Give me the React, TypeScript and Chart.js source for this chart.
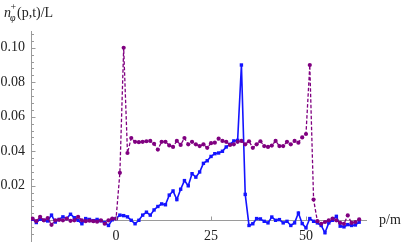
import React, { useEffect, useRef } from "react";
import { Chart, registerables } from "chart.js";

Chart.register(...registerables);

// momentum values p (x axis)
const pValues = [
  -22, -21, -20, -19, -18, -17, -16, -15, -14, -13, -12, -11, -10, -9, -8, -7, -6, -5, -4, -3, -2, -1,
  0, 1, 2, 3, 4, 5, 6, 7, 8, 9, 10, 11, 12, 13, 14, 15, 16, 17, 18, 19, 20, 21, 22, 23, 24, 25, 26, 27, 28, 29,
  30, 31, 32, 33, 34, 35, 36, 37, 38, 39, 40, 41, 42, 43, 44, 45, 46, 47, 48, 49, 50, 51, 52, 53, 54, 55, 56,
  57, 58, 59, 60, 61, 62, 63, 64,
];

// purple dashed series
const purpleValues = [
  0.001, -0.0005, 0.002, 0.0, 0.0013, -0.0026, 0.0, 0.0003, 0.0, 0.001, -0.0003, 0.0, 0.002, 0.0, -0.0005, -0.0002, -0.0005, -0.0008, 0.0, -0.002, 0.0, 0.001,
  0.001, 0.0275, 0.1, 0.039, 0.0477, 0.0455, 0.0453, 0.0455, 0.0458, 0.046, 0.0443, 0.041, 0.0455, 0.0455, 0.0434, 0.0425, 0.046, 0.0437, 0.0477, 0.044, 0.0455, 0.044, 0.043, 0.044, 0.042, 0.0447, 0.045, 0.0473, 0.046, 0.0455,
  0.0437, 0.044, 0.0455, 0.046, 0.044, 0.0458, 0.042, 0.044, 0.0458, 0.043, 0.0425, 0.0433, 0.046, 0.043, 0.043, 0.0455, 0.044, 0.046, 0.045, 0.048, 0.05, 0.09, 0.012, -0.0005, -0.002, -0.001, 0.0,
  0.001, 0.0, -0.0015, -0.002, 0.0028, -0.0015, -0.001, 0.0005,
];

// blue solid series
const blueValues = [
  0.0006, -0.0013, 0.0006, 0.0, -0.0004, 0.003, -0.001, 0.0005, 0.002, 0.001, 0.0035, 0.0015, 0.0, -0.002, 0.001, 0.0005, -0.0002, 0.0005, -0.0003, -0.0013, -0.003, 0.0003,
  0.001, 0.003, 0.0027, 0.002, 0.0, -0.002, 0.0, 0.003, 0.0047, 0.003, 0.006, 0.008, 0.0095, 0.009, 0.0146, 0.017, 0.012, 0.018, 0.023, 0.02, 0.027, 0.025, 0.028, 0.033, 0.0345, 0.037, 0.0386, 0.039, 0.04, 0.0425,
  0.044, 0.046, 0.0463, 0.09, 0.015, -0.003, -0.002, 0.001, 0.0008, -0.0006, -0.0015, 0.0019, 0.0, 0.0004, -0.0015, -0.0006, -0.003, -0.0015, 0.0042, -0.0019, -0.0044, 0.001, -0.0006, -0.0015, -0.003, -0.0072, -0.0015,
  0.0, 0.0023, -0.0034, -0.0038, -0.0025, -0.003, -0.0027, -0.0011,
];

const xTicks = [0, 25, 50];
const yTicks = [0.02, 0.04, 0.06, 0.08, 0.1];
const yMinorTicks = [
  -0.008, -0.004, 0.004, 0.008, 0.012, 0.016, 0.024, 0.028, 0.032, 0.036, 0.044, 0.048, 0.052, 0.056,
  0.064, 0.068, 0.072, 0.076, 0.084, 0.088, 0.092, 0.096, 0.104, 0.108,
];

const X_MIN = -22.4;
const X_MAX = 65.8;
const Y_MIN = -0.012;
const Y_MAX = 0.1097;

const SERIF = "'Liberation Serif', 'Times New Roman', 'DejaVu Serif', serif";
const AXIS_COLOR = "#9a9a9a";
const PURPLE = "rgb(128,0,128)";
const BLUE = "rgb(20,20,255)";

const decorPlugin = {
  id: "decor",
  afterDraw(chart: any) {
    const ctx = chart.ctx;
    const xs = chart.scales.x;
    const ys = chart.scales.y;
    const x0 = Math.round(xs.left) + 0.5;
    const yAxis0 = Math.round(ys.getPixelForValue(0)) + 0.5;
    ctx.save();
    ctx.strokeStyle = AXIS_COLOR;
    ctx.lineWidth = 1;
    for (const v of yTicks) {
      const y = Math.round(ys.getPixelForValue(v)) + 0.5;
      ctx.beginPath();
      ctx.moveTo(x0, y);
      ctx.lineTo(x0 + 4, y);
      ctx.stroke();
    }
    for (const v of yMinorTicks) {
      const y = Math.round(ys.getPixelForValue(v)) + 0.5;
      ctx.beginPath();
      ctx.moveTo(x0, y);
      ctx.lineTo(x0 + 2.5, y);
      ctx.stroke();
    }
    for (const v of xTicks) {
      const x = Math.round(xs.getPixelForValue(v)) + 0.5;
      ctx.beginPath();
      ctx.moveTo(x, yAxis0);
      ctx.lineTo(x, yAxis0 - 4);
      ctx.stroke();
    }
    ctx.fillStyle = "#222";
    ctx.textBaseline = "alphabetic";
    ctx.textAlign = "left";
    ctx.font = `italic 14px ${SERIF}`;
    ctx.fillText("n", 4, 17);
    ctx.font = `10px ${SERIF}`;
    ctx.fillText("+", 10.5, 10);
    ctx.font = `italic 10px ${SERIF}`;
    ctx.fillText("φ", 10, 21);
    ctx.font = `14px ${SERIF}`;
    ctx.fillText("(p,t)/L", 17, 17);
    ctx.textBaseline = "middle";
    ctx.fillText("p/m", 379, yAxis0);
    ctx.restore();
  },
};

export default function App() {
  const canvasRef = useRef<HTMLCanvasElement | null>(null);

  useEffect(() => {
    if (!canvasRef.current) return;
    const purpleData = pValues.map((p, i) => ({ x: p, y: purpleValues[i] }));
    const blueData = pValues.map((p, i) => ({ x: p, y: blueValues[i] }));
    const chart = new Chart(canvasRef.current, {
      type: "line",
      data: {
        datasets: [
          {
            label: "purple",
            data: purpleData,
            borderColor: PURPLE,
            backgroundColor: PURPLE,
            borderWidth: 1.3,
            borderDash: [3.5, 2],
            pointStyle: "circle",
            pointRadius: 2.1,
            pointBorderWidth: 0,
            tension: 0,
            fill: false,
          },
          {
            label: "blue",
            data: blueData,
            borderColor: BLUE,
            backgroundColor: BLUE,
            borderWidth: 1.6,
            pointStyle: "rect",
            pointRadius: 2.4,
            pointBorderWidth: 0,
            tension: 0,
            fill: false,
          },
        ],
      },
      options: {
        responsive: false,
        animation: false,
        devicePixelRatio: 1,
        layout: { padding: { top: 31, right: 37, bottom: 0, left: 0 } },
        plugins: { legend: { display: false }, tooltip: { enabled: false }, title: { display: false } },
        scales: {
          x: {
            type: "linear",
            min: X_MIN,
            max: X_MAX,
            position: { y: 0 } as any,
            afterFit: (s: any) => {
              s.height = 0;
              s.paddingLeft = 0;
              s.paddingRight = 0;
              s.paddingTop = 0;
              s.paddingBottom = 0;
            },
            afterBuildTicks: (s: any) => {
              s.ticks = xTicks.map((v) => ({ value: v }));
            },
            grid: { display: false, drawTicks: false },
            border: { display: true, color: AXIS_COLOR, width: 1 },
            ticks: {
              padding: 8,
              maxRotation: 0,
              autoSkip: false,
              color: "#222",
              font: { family: SERIF, size: 14 },
              callback: (v: any) => String(v),
            },
          },
          y: {
            type: "linear",
            min: Y_MIN,
            max: Y_MAX,
            position: "left",
            afterFit: (s: any) => {
              s.width = 31;
              s.paddingTop = 0;
              s.paddingBottom = 0;
              s.paddingLeft = 0;
              s.paddingRight = 0;
            },
            afterBuildTicks: (s: any) => {
              s.ticks = yTicks.map((v) => ({ value: v }));
            },
            grid: { display: false, drawTicks: false },
            border: { display: true, color: AXIS_COLOR, width: 1 },
            ticks: {
              padding: 6,
              autoSkip: false,
              color: "#222",
              font: { family: SERIF, size: 14 },
              callback: (v: any) => Number(v).toFixed(2),
            },
          },
        },
      },
      plugins: [decorPlugin],
    });
    return () => chart.destroy();
  }, []);

  return (
    <div style={{ position: "fixed", left: 0, top: 0, width: 403, height: 245, background: "#fff" }}>
      <canvas ref={canvasRef} width={403} height={245} style={{ display: "block", width: 403, height: 245 }} />
    </div>
  );
}
